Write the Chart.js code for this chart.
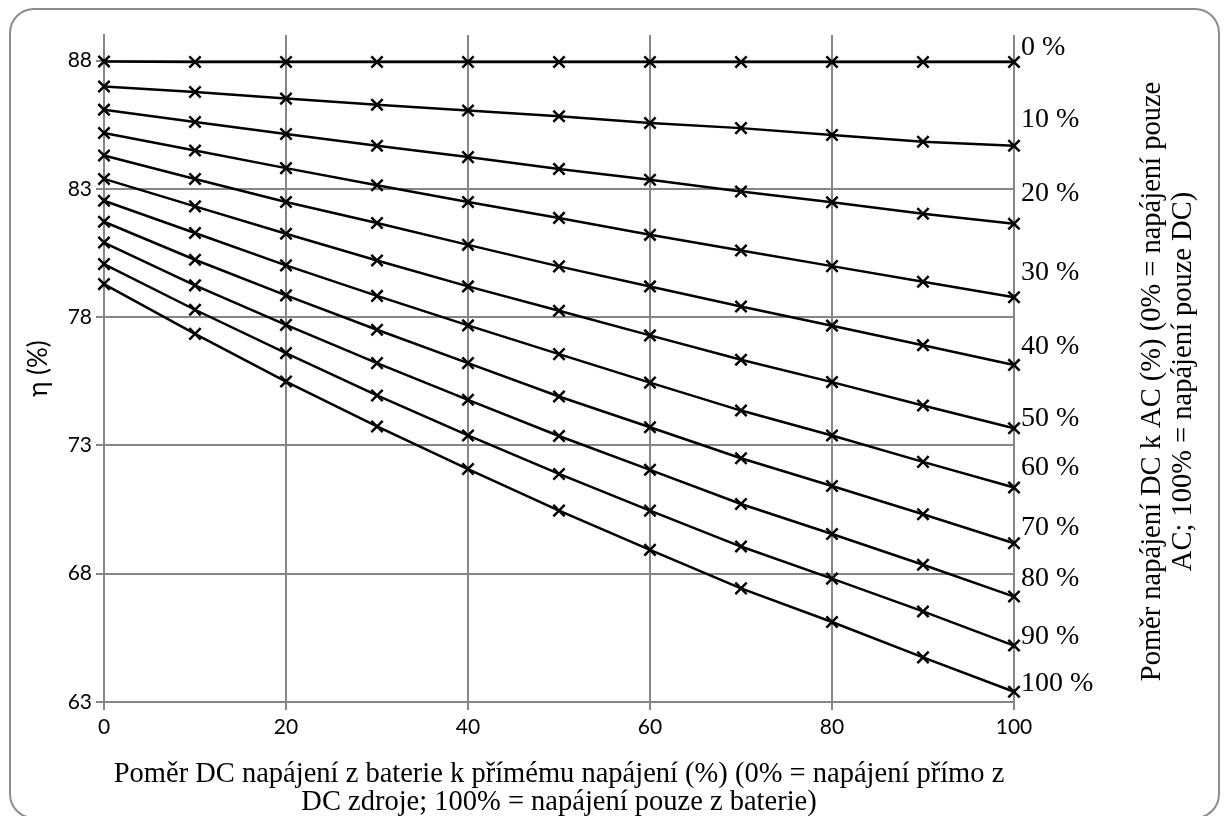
<!DOCTYPE html>
<html>
<head>
<meta charset="utf-8">
<script src="https://cdn.jsdelivr.net/npm/chart.js@4/dist/chart.umd.min.js"></script>
<style>
	html, body { margin: 0; padding: 0; background: #fff; }
	#wrap { position: relative; width: 1224px; height: 816px; overflow: hidden; }
	#frame {
		position: absolute; left: 9px; top: 8px; width: 1207px; height: 807px;
		border: 2px solid #8c8c8c; border-radius: 25px;
	}
	#efficiency-chart { position: absolute; left: 0; top: 0; }
</style>
</head>
<body>
<div id="wrap">
	<div id="frame"></div>
	<canvas id="efficiency-chart" width="1224" height="816"></canvas>
</div>
<script>
// share of battery DC supply vs direct DC supply (%)
const xValues = [0, 10, 20, 30, 40, 50, 60, 70, 80, 90, 100];
const xTicks = [0, 20, 40, 60, 80, 100];
const yTicks = [63, 68, 73, 78, 83, 88];

// one curve per DC/AC ratio, eta in %
const eta000 = [87.97, 87.95, 87.95, 87.95, 87.95, 87.95, 87.95, 87.95, 87.95, 87.95, 87.95];
const eta010 = [86.99, 86.78, 86.52, 86.28, 86.06, 85.83, 85.57, 85.37, 85.10, 84.84, 84.68];
const eta020 = [86.09, 85.61, 85.14, 84.68, 84.24, 83.78, 83.36, 82.90, 82.48, 82.03, 81.64];
const eta030 = [85.18, 84.50, 83.81, 83.14, 82.49, 81.87, 81.21, 80.60, 79.99, 79.38, 78.78];
const eta040 = [84.30, 83.39, 82.49, 81.67, 80.82, 79.98, 79.20, 78.42, 77.67, 76.91, 76.14];
const eta050 = [83.39, 82.32, 81.25, 80.21, 79.20, 78.25, 77.29, 76.34, 75.47, 74.56, 73.67];
const eta060 = [82.54, 81.28, 80.02, 78.83, 77.68, 76.56, 75.45, 74.36, 73.39, 72.36, 71.36];
const eta070 = [81.72, 80.24, 78.85, 77.51, 76.21, 74.91, 73.71, 72.50, 71.42, 70.32, 69.19];
const eta080 = [80.91, 79.24, 77.70, 76.21, 74.78, 73.37, 72.05, 70.72, 69.55, 68.35, 67.11];
const eta090 = [80.07, 78.29, 76.60, 74.95, 73.39, 71.89, 70.46, 69.06, 67.81, 66.53, 65.20];
const eta100 = [79.29, 77.35, 75.49, 73.74, 72.08, 70.46, 68.93, 67.43, 66.12, 64.74, 63.40];

const seriesLabels = ['0 %', '10 %', '20 %', '30 %', '40 %', '50 %', '60 %', '70 %', '80 %', '90 %', '100 %'];
const seriesValues = [eta000, eta010, eta020, eta030, eta040, eta050, eta060, eta070, eta080, eta090, eta100];

const xTitle = ['Poměr DC napájení z baterie k přímému napájení (%) (0% = napájení přímo z', 'DC zdroje; 100% = napájení pouze z baterie)'];
const yTitle = 'η (%)';
const rightTitle = ['Poměr napájení DC k AC (%) (0% = napájení pouze', 'AC; 100% = napájení pouze DC)'];

const gridColor = '#868686';
const serif = "'Liberation Serif', 'Times New Roman', serif";
const sans = "Lato, 'Noto Sans', sans-serif";

// labels next to the last point of each curve, nudged like in the original
const endLabels = {
	id: 'endLabels',
	afterDatasetsDraw(chart) {
		const nudge = [-14, -26, -30, -25, -18, -10, -20, -16, -18, -9, -8];
		const ctx = chart.ctx;
		ctx.save();
		ctx.font = `28px ${serif}`;
		ctx.fillStyle = '#000';
		ctx.textAlign = 'left';
		ctx.textBaseline = 'middle';
		seriesLabels.forEach((label, i) => {
			const meta = chart.getDatasetMeta(i);
			const pt = meta.data[meta.data.length - 1];
			ctx.fillText(label, pt.x + 7, pt.y + nudge[i]);
		});
		ctx.restore();
	}
};

// second vertical title on the right, read bottom to top
const rightAxisTitle = {
	id: 'rightAxisTitle',
	afterDraw(chart) {
		const ctx = chart.ctx;
		const cy = (chart.chartArea.top + chart.chartArea.bottom) / 2 + 13;
		ctx.save();
		ctx.font = `28.5px ${serif}`;
		ctx.fillStyle = '#000';
		ctx.textAlign = 'center';
		ctx.textBaseline = 'middle';
		rightTitle.forEach((line, i) => {
			ctx.save();
			ctx.translate(1153 + i * 31, cy);
			ctx.rotate(-Math.PI / 2);
			ctx.fillText(line, 0, 0);
			ctx.restore();
		});
		ctx.restore();
	}
};

new Chart(document.querySelector('#efficiency-chart'), {
	type: 'line',
	data: {
		labels: xValues,
		datasets: seriesValues.map((values, i) => ({
			label: seriesLabels[i],
			data: values.map((v, j) => ({ x: xValues[j], y: v })),
			borderColor: '#000',
			borderWidth: 2.5,
			pointStyle: 'crossRot',
			pointRadius: 8,
			pointBorderWidth: 2.5,
			pointBorderColor: '#000',
			pointBackgroundColor: '#000',
			tension: 0,
			clip: false
		}))
	},
	options: {
		responsive: false,
		animation: false,
		devicePixelRatio: 1,
		layout: {
			padding: { left: 0, right: 210, top: 35, bottom: 0 }
		},
		scales: {
			x: {
				type: 'linear',
				min: 0,
				max: 100,
				afterBuildTicks: axis => { axis.ticks = xTicks.map(v => ({ value: v })); },
				afterFit: axis => { axis.height = 114; },
				grid: { color: gridColor, lineWidth: 2, tickLength: 8, tickColor: gridColor },
				border: { color: gridColor, width: 2 },
				ticks: { color: '#000', font: { family: sans, size: 21 }, padding: 5, maxRotation: 0 },
				title: {
					display: true,
					text: xTitle,
					color: '#000',
					font: { family: serif, size: 28.5, lineHeight: 0.98 },
					padding: { top: 0, bottom: 0 }
				}
			},
			y: {
				min: 63,
				max: 89,
				afterBuildTicks: axis => { axis.ticks = yTicks.map(v => ({ value: v })); },
				afterFit: axis => { axis.width = 104; },
				grid: { color: gridColor, lineWidth: 2, tickLength: 8, tickColor: gridColor },
				border: { color: gridColor, width: 2 },
				ticks: { color: '#000', font: { family: sans, size: 21 }, padding: 4 },
				title: {
					display: true,
					text: yTitle,
					color: '#000',
					font: { family: sans, size: 26 },
					padding: { top: 23, bottom: 0 }
				}
			}
		},
		plugins: {
			legend: { display: false },
			tooltip: { enabled: false }
		}
	},
	plugins: [endLabels, rightAxisTitle]
});
</script>
</body>
</html>
